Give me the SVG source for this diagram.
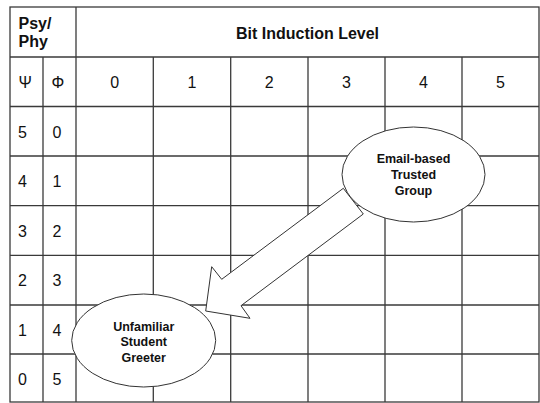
<svg xmlns="http://www.w3.org/2000/svg" width="540" height="403" viewBox="0 0 540 403">
<style>
.grid{stroke:#3a3a3a;stroke-width:1.3;fill:none}
.t{font-family:"Liberation Sans",Arial,sans-serif;font-size:16px;fill:#111}
.b{font-weight:bold}
.c{text-anchor:middle}
.node ellipse{fill:#fff;stroke:#333;stroke-width:1}
.lbl{font-family:"Liberation Sans",Arial,sans-serif;font-size:12.5px;font-weight:bold;text-anchor:middle;fill:#111}
.arrow{fill:#fff;stroke:#333;stroke-width:1;stroke-linejoin:miter}
</style>
<rect width="540" height="403" fill="#fff"/>
<g id="table">
<g class="grid">
<rect x="10" y="7" width="529" height="395"/>
<line x1="10" y1="57" x2="539" y2="57"/>
<line x1="10" y1="106.5" x2="539" y2="106.5"/>
<line x1="10" y1="156" x2="539" y2="156"/>
<line x1="10" y1="205.6" x2="539" y2="205.6"/>
<line x1="10" y1="255.3" x2="539" y2="255.3"/>
<line x1="10" y1="305" x2="539" y2="305"/>
<line x1="10" y1="354" x2="539" y2="354"/>
<line x1="43" y1="57" x2="43" y2="402"/>
<line x1="76" y1="7" x2="76" y2="402"/>
<line x1="153.3" y1="57" x2="153.3" y2="402"/>
<line x1="230.7" y1="57" x2="230.7" y2="402"/>
<line x1="308" y1="57" x2="308" y2="402"/>
<line x1="385" y1="57" x2="385" y2="402"/>
<line x1="462" y1="57" x2="462" y2="402"/>
</g>
<text class="t b" x="18.5" y="28.5">Psy/</text>
<text class="t b" x="18.5" y="47">Phy</text>
<text class="t b c" x="307.5" y="38.5">Bit Induction Level</text>
<text class="t" x="18.5" y="88">Ψ</text>
<text class="t" x="51.5" y="88">Φ</text>
<text class="t c" x="114.6" y="88">0</text>
<text class="t c" x="192" y="88">1</text>
<text class="t c" x="269.3" y="88">2</text>
<text class="t c" x="346.5" y="88">3</text>
<text class="t c" x="423.5" y="88">4</text>
<text class="t c" x="500.5" y="88">5</text>
<g class="t">
<text x="18" y="137.5">5</text><text x="52.5" y="137.5">0</text>
<text x="18" y="187">4</text><text x="52.5" y="187">1</text>
<text x="18" y="236.5">3</text><text x="52.5" y="236.5">2</text>
<text x="18" y="286">2</text><text x="52.5" y="286">3</text>
<text x="18" y="335.5">1</text><text x="52.5" y="335.5">4</text>
<text x="18" y="384.5">0</text><text x="52.5" y="384.5">5</text>
</g>
</g>
<g id="connectors">
<polygon class="arrow" points="343.3,188.3 363.3,214 241,305.7 250,318.3 205.7,311 211.7,266.7 221.7,279.3"/>
</g>
<g id="node-email" class="node">
<ellipse cx="413.5" cy="174.5" rx="71.5" ry="47.5"/>
<text class="lbl" x="413.5" y="163">Email-based</text>
<text class="lbl" x="413.5" y="179">Trusted</text>
<text class="lbl" x="413.5" y="195">Group</text>
</g>
<g id="node-unfamiliar" class="node">
<ellipse cx="143.7" cy="340.5" rx="72" ry="46.5"/>
<text class="lbl" x="143.7" y="330.5">Unfamiliar</text>
<text class="lbl" x="143.7" y="346">Student</text>
<text class="lbl" x="143.7" y="361.5">Greeter</text>
</g>
</svg>
